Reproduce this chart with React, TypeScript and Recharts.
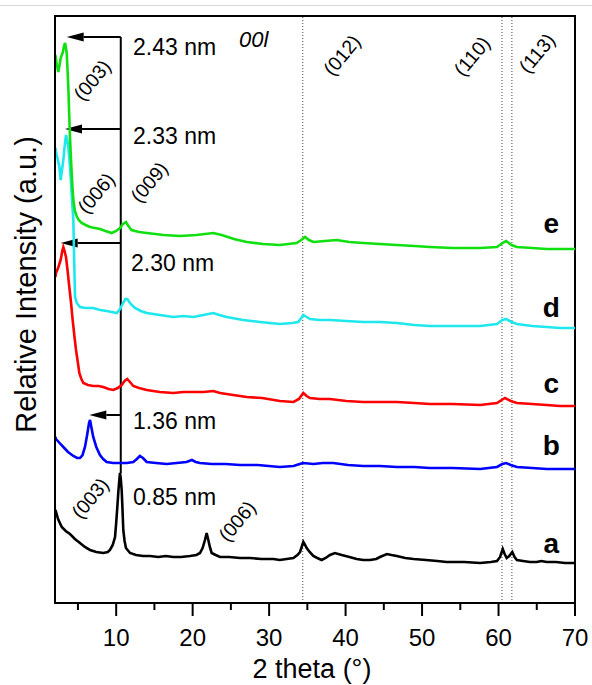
import {
  LineChart,
  Line,
  XAxis,
  YAxis,
  ReferenceLine,
  ReferenceDot,
  ReferenceArea,
} from "recharts";

const FONT = "'Liberation Sans', Arial, sans-serif";

// [2 theta (deg), relative intensity (a.u., curves stacked)]
const curveA = [
  [2.05, 93], [2.13, 91], [2.4, 84], [2.88, 76], [3.4, 72], [3.96, 69], [4.6, 64], [5.27, 60],
  [5.9, 56], [6.58, 53], [7.4, 51], [8.32, 50], [8.9, 51], [9.19, 53], [9.55, 58], [9.85, 66],
  [10.0, 80], [10.15, 96], [10.3, 113], [10.41, 123], [10.5, 130], [10.6, 124], [10.72, 113],
  [10.82, 95], [10.93, 73], [11.1, 62], [11.28, 55], [11.81, 50], [12.6, 48], [13.5, 47],
  [14.42, 47], [15.5, 46], [16.5, 47], [17.47, 46], [18.5, 46], [19.65, 47], [20.5, 48],
  [20.96, 50], [21.3, 55], [21.61, 63], [21.83, 70], [22.05, 63], [22.25, 56], [22.49, 50],
  [23.0, 48], [23.58, 46], [24.8, 46], [26.19, 45], [27.5, 45], [29.0, 44], [30.55, 44],
  [31.4, 43], [32.3, 44], [33.17, 45], [33.7, 48], [34.04, 51], [34.3, 57], [34.47, 61],
  [34.7, 58], [34.91, 55], [35.3, 51], [35.78, 47], [36.3, 45], [36.87, 43], [37.4, 45],
  [37.96, 48], [38.6, 50], [39.5, 48], [40.5, 46], [41.45, 44], [42.3, 43], [43.2, 43],
  [44.0, 44], [44.5, 46], [45.4, 49], [46.0, 48], [46.7, 47], [47.8, 45], [48.9, 44],
  [50.5, 43], [52.0, 42], [53.2, 41], [55.5, 41], [57.6, 40], [59.0, 41], [59.8, 42],
  [60.2, 46], [60.55, 54], [60.8, 49], [61.07, 45], [61.4, 47], [61.8, 51], [62.1, 46],
  [62.4, 43], [63.2, 42], [64.1, 41], [65.0, 41], [65.6, 42], [66.3, 41], [67.5, 41],
  [68.7, 40], [69.8, 40], [70, 40],
];

const curveB = [
  [2.05, 166], [2.13, 164], [2.6, 160], [3.09, 156], [3.7, 151], [4.4, 147], [4.9, 145],
  [5.27, 145], [5.6, 148], [5.92, 156], [6.2, 168], [6.45, 180], [6.58, 183], [6.75, 176],
  [7.0, 166], [7.4, 156], [7.88, 148], [8.3, 144], [8.76, 141], [9.6, 140], [10.5, 140],
  [11.4, 140], [12.24, 141], [12.7, 144], [13.1, 147], [13.5, 145], [14.0, 141], [15.2, 140],
  [16.6, 139], [17.9, 140], [19.2, 141], [19.9, 143], [20.4, 141], [20.96, 140], [22.5, 139],
  [24.3, 139], [26.2, 138], [28.5, 138], [31.4, 136], [33.2, 137], [34.0, 139], [34.47, 140],
  [35.8, 139], [37.0, 140], [38.4, 140], [40.3, 138], [42.3, 137], [44.5, 137], [46.7, 136],
  [49.0, 136], [51.0, 135], [54.0, 135], [57.6, 134], [59.8, 136], [60.5, 139], [61.0, 140],
  [61.6, 138], [62.4, 136], [64.4, 135], [66.3, 134], [68.0, 134], [69.8, 134], [70, 134],
];

const curveC = [
  [2.05, 326], [2.13, 330], [2.45, 336], [2.74, 343], [2.95, 352], [3.09, 356], [3.25, 352],
  [3.44, 346], [3.65, 332], [3.87, 316], [4.1, 300], [4.31, 283], [4.55, 266], [4.75, 253],
  [5.0, 240], [5.18, 230], [5.45, 224], [5.71, 220], [6.3, 218], [7.0, 217], [7.7, 217],
  [8.32, 216], [9.0, 214], [9.62, 213], [10.2, 215], [10.72, 218], [11.1, 222], [11.45, 224],
  [11.8, 221], [12.24, 217], [13.0, 215], [14.0, 213], [15.7, 211], [17.47, 210], [18.8, 211],
  [20.1, 211], [21.4, 211], [22.7, 212], [23.58, 210], [25.3, 208], [27.07, 206], [29.1, 205],
  [31.4, 202], [33.2, 201], [33.9, 204], [34.47, 210], [34.9, 207], [35.35, 205], [36.6, 204],
  [37.96, 204], [40.1, 202], [42.3, 201], [44.5, 201], [46.7, 201], [49.0, 200], [51.0, 199],
  [54.0, 199], [57.6, 198], [59.8, 200], [60.4, 203], [60.85, 205], [61.6, 202], [62.4, 200],
  [64.4, 199], [66.3, 198], [68.0, 197], [69.8, 197], [70, 197],
];

const curveD = [
  [2.05, 455], [2.13, 451], [2.35, 444], [2.57, 436], [2.74, 423], [2.9, 432], [3.09, 443],
  [3.25, 456], [3.44, 468], [3.6, 463], [3.74, 456], [3.9, 442], [4.05, 426], [4.25, 400],
  [4.4, 383], [4.5, 345], [4.62, 306], [4.85, 300], [5.27, 296], [6.0, 295], [7.0, 295],
  [7.9, 293], [8.76, 292], [9.4, 291], [10.07, 290], [10.5, 294], [10.9, 300], [11.2, 304],
  [11.45, 304], [11.9, 299], [12.46, 295], [13.2, 292], [14.0, 290], [15.7, 288], [17.47, 286],
  [18.8, 287], [20.1, 286], [21.4, 288], [22.7, 290], [23.5, 288], [24.45, 286], [26.6, 283],
  [28.8, 281], [31.4, 279], [33.0, 280], [33.8, 281], [34.2, 285], [34.47, 288], [34.9, 286],
  [35.35, 284], [36.6, 283], [37.96, 283], [40.1, 282], [42.3, 281], [44.5, 281], [46.7, 280],
  [49.0, 278], [51.0, 277], [54.0, 277], [57.6, 277], [59.8, 279], [60.5, 283], [61.0, 284],
  [61.7, 281], [62.4, 279], [64.4, 277], [66.3, 276], [68.0, 275], [69.8, 275], [70, 275],
];

const curveE = [
  [2.05, 548], [2.2, 540], [2.43, 531], [2.6, 538], [2.74, 545], [3.0, 550], [3.15, 556],
  [3.31, 560], [3.42, 556], [3.53, 550], [3.64, 533], [3.74, 516], [3.85, 490], [3.96, 466],
  [4.07, 447], [4.18, 430], [4.3, 414], [4.4, 403], [4.6, 392], [4.83, 387], [5.1, 383],
  [5.49, 380], [6.0, 378], [6.58, 376], [7.2, 375], [7.88, 374], [8.6, 372], [9.41, 370],
  [10.0, 372], [10.5, 375], [10.9, 379], [11.28, 381], [11.6, 377], [12.0, 373], [13.0, 371],
  [14.0, 370], [16.2, 368], [18.35, 367], [20.5, 368], [22.7, 370], [23.8, 368], [25.4, 364],
  [27.07, 361], [29.2, 359], [31.4, 358], [33.6, 360], [34.2, 363], [34.7, 366], [35.2, 363],
  [35.8, 361], [37.3, 362], [38.8, 363], [40.5, 361], [42.3, 360], [44.5, 359], [46.7, 358],
  [49.0, 357], [51.0, 356], [54.0, 355], [57.6, 355], [59.8, 356], [60.5, 360], [61.0, 362],
  [61.7, 358], [62.4, 356], [64.4, 355], [66.3, 354], [68.0, 354], [69.8, 354], [70, 354],
];

const curves = [curveA, curveB, curveC, curveD, curveE];
const curveNames = ["a", "b", "c", "d", "e"];
const curveColors = ["#000000", "#0000ff", "#ff0000", "#1ee8ee", "#10e010"];
const curveLetterAt = [[66.9, 50], [66.9, 148], [66.9, 210], [66.9, 286], [66.9, 370]];

const xTicks = [5, 10, 15, 20, 25, 30, 35, 40, 45, 50, 55, 60, 65, 70];
const planeLines = [34.4, 60.45, 61.75];

// basal spacing arrows
const spacingLabels = ["2.43 nm", "2.33 nm", "2.30 nm", "1.36 nm", "0.85 nm"];
const spacingLabelAt = [[12.2, 548], [12.2, 459], [11.95, 332], [12.2, 174], [12.2, 98]];
const arrowY = [566, 474, 360, 188];
const arrowTipX = [3.53, 3.31, 2.74, 6.49];
const arrowFromX = 10.6;
const stemTop = 566;
const stemBottom = 130;

const hklLabels = ["(003)", "(006)", "(009)", "(003)", "(006)", "(012)", "(110)", "(113)"];
const hklAt = [
  [6.84, 523], [7.36, 410], [14.3, 421], [6.58, 105], [25.8, 82], [39.5, 548], [56.5, 547], [65.0, 550],
];

const toRows = (pts: number[][]) => pts.map(([x, y]) => ({ x, y }));

const Arrow = (p: any) => {
  const { x1, y1, x2, y2 } = p;
  const dx = x2 - x1;
  const dy = y2 - y1;
  const len = Math.hypot(dx, dy) || 1;
  const ux = dx / len;
  const uy = dy / len;
  const hl = 17;
  const hw = 4.5;
  const bx = x2 - ux * hl;
  const by = y2 - uy * hl;
  return (
    <g>
      <line x1={x1} y1={y1} x2={bx} y2={by} stroke="#000" strokeWidth={2} />
      <polygon
        points={`${x2},${y2} ${bx - uy * hw},${by + ux * hw} ${bx + uy * hw},${by - ux * hw}`}
        fill="#000"
      />
    </g>
  );
};

const XTick = (props: any) => {
  const { x, y, payload } = props;
  const major = payload.value % 10 === 0;
  return (
    <g>
      <line x1={x} y1={y} x2={x} y2={y + (major ? 13 : 7)} stroke="#000" strokeWidth={2} />
      {major && (
        <text x={x} y={y + 43} textAnchor="middle" fontSize={24} fill="#000" fontFamily={FONT}>
          {payload.value}
        </text>
      )}
    </g>
  );
};

export default function App() {
  return (
    <div style={{ position: "absolute", left: 0, top: 0, width: 592, height: 685, background: "#fff" }}>
      <div style={{ position: "absolute", left: 0, top: 5, width: 592, height: 1, background: "#d8d8d8" }} />
      <LineChart
        width={592}
        height={685}
        margin={{ top: 16, right: 17, bottom: 0, left: 0 }}
        style={{ fontFamily: FONT }}
      >
        <XAxis
          type="number"
          dataKey="x"
          domain={[2, 70]}
          allowDataOverflow
          ticks={xTicks}
          interval={0}
          tickSize={0}
          tickMargin={0}
          tickLine={false}
          tick={XTick}
          axisLine={{ stroke: "#000", strokeWidth: 2 }}
          height={82}
          label={{
            content: (p: any) => (
              <text
                x={p.viewBox.x + p.viewBox.width / 2 - 3}
                y={p.viewBox.y + 75}
                textAnchor="middle"
                fontSize={27}
                fill="#000"
                fontFamily={FONT}
              >
                2 theta (°)
              </text>
            ),
          }}
        />
        <YAxis
          type="number"
          domain={[0, 587]}
          allowDataOverflow
          width={55}
          tick={false}
          tickLine={false}
          axisLine={{ stroke: "#000", strokeWidth: 2 }}
          label={{
            content: (p: any) => (
              <text
                transform={`translate(${p.viewBox.x + 36}, ${p.viewBox.y + p.viewBox.height / 2 - 25}) rotate(-90)`}
                textAnchor="middle"
                fontSize={29}
                fill="#000"
                fontFamily={FONT}
              >
                Relative Intensity (a.u.)
              </text>
            ),
          }}
        />
        <ReferenceArea x1={2} x2={70} y1={0} y2={587} fill="none" fillOpacity={0} stroke="#000" strokeWidth={2} />
        {planeLines.map((x) => (
          <ReferenceLine key={`pl-${x}`} x={x} stroke="#444" strokeWidth={1} strokeDasharray="1 2" />
        ))}
        <ReferenceLine
          segment={[{ x: arrowFromX, y: stemTop }, { x: arrowFromX, y: stemBottom }]}
          stroke="#000"
          strokeWidth={2}
        />
        {arrowY.map((y, i) => (
          <ReferenceLine
            key={`ar-${i}`}
            segment={[{ x: arrowFromX, y }, { x: arrowTipX[i], y }]}
            shape={Arrow}
          />
        ))}
        {curves.map((c, i) => (
          <Line
            key={curveNames[i]}
            data={toRows(c)}
            dataKey="y"
            type="linear"
            stroke={curveColors[i]}
            strokeWidth={2.6}
            dot={false}
            isAnimationActive={false}
          />
        ))}
        {spacingLabels.map((t, i) => (
          <ReferenceDot
            key={`sp-${i}`}
            x={spacingLabelAt[i][0]}
            y={spacingLabelAt[i][1]}
            r={0}
            shape={(p: any) => (
              <text x={p.cx} y={p.cy} fontSize={23} fill="#000" fontFamily={FONT}>
                {t}
              </text>
            )}
          />
        ))}
        <ReferenceDot
          x={26.06}
          y={556}
          r={0}
          shape={(p: any) => (
            <text x={p.cx} y={p.cy} fontSize={22} fontStyle="italic" fill="#000" fontFamily={FONT}>
              00l
            </text>
          )}
        />
        {hklLabels.map((t, i) => (
          <ReferenceDot
            key={`hkl-${i}`}
            x={hklAt[i][0]}
            y={hklAt[i][1]}
            r={0}
            shape={(p: any) => (
              <text
                x={p.cx}
                y={p.cy}
                transform={`rotate(-50 ${p.cx} ${p.cy})`}
                textAnchor="middle"
                dominantBaseline="central"
                fontSize={19.5}
                fill="#000"
                fontFamily={FONT}
              >
                {t}
              </text>
            )}
          />
        ))}
        {curveNames.map((n, i) => (
          <ReferenceDot
            key={`lt-${n}`}
            x={curveLetterAt[i][0]}
            y={curveLetterAt[i][1]}
            r={0}
            shape={(p: any) => (
              <text x={p.cx} y={p.cy} textAnchor="middle" fontSize={28} fontWeight="bold" fill="#000" fontFamily={FONT}>
                {n}
              </text>
            )}
          />
        ))}
      </LineChart>
    </div>
  );
}
